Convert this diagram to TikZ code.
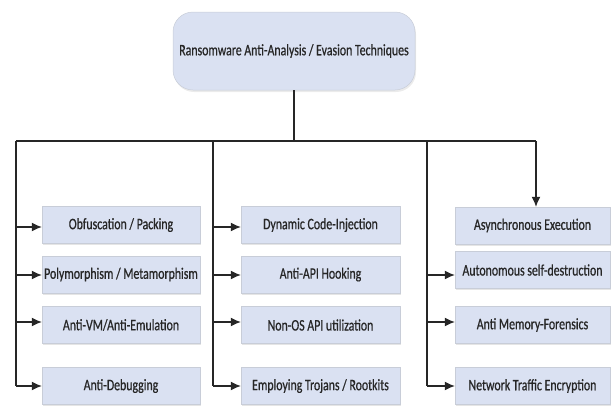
\documentclass[tikz,border=0pt]{standalone}
\usepackage{fontspec}
\setmainfont{Carlito}[FakeStretch=0.74, FakeBold=0.7]
\usetikzlibrary{arrows.meta,shadows}
\definecolor{boxfill}{HTML}{DAE1F2}
\definecolor{boxline}{HTML}{C8CDD8}
\tikzset{
  leaf/.style={draw=boxline, line width=0.4pt, fill=boxfill, minimum height=37pt, inner sep=0pt,
    font=\fontsize{16}{18}\selectfont, text=black!85,
    drop shadow={shadow xshift=1pt, shadow yshift=-1.5pt, opacity=0.25, fill=black!40}},
  rootbox/.style={draw=boxline, line width=0.5pt, fill=boxfill, rounded corners=20pt,
    minimum width=242pt, minimum height=78pt, inner sep=0pt,
    font=\fontsize{16}{18}\selectfont, text=black!85,
    drop shadow={shadow xshift=1pt, shadow yshift=-2pt, opacity=0.2, fill=black!40}},
  conn/.style={line width=1.2pt, draw=black!85},
  arr/.style={conn, -{Latex[length=10pt,width=9pt]}}
}
\begin{document}
\begin{tikzpicture}[x=1pt,y=-1pt]
\useasboundingbox (0,0) rectangle (611,405);
\node[rootbox] (root) at (294,51) {Ransomware Anti-Analysis / Evasion Techniques};
% left column
\node[leaf, minimum width=158pt] (a1) at (121,225) {Obfuscation / Packing};
\node[leaf, minimum width=158pt] (a2) at (121,274.5) {Polymorphism / Metamorphism};
\node[leaf, minimum width=158pt] (a3) at (121,325) {Anti-VM/Anti-Emulation};
\node[leaf, minimum width=158pt] (a4) at (121,386) {Anti-Debugging};
% middle column
\node[leaf, minimum width=159pt] (b1) at (320.5,225) {Dynamic Code-Injection};
\node[leaf, minimum width=159pt] (b2) at (320.5,274.5) {Anti-API Hooking};
\node[leaf, minimum width=159pt] (b3) at (320.5,325) {Non-OS API utilization};
\node[leaf, minimum width=159pt] (b4) at (320.5,386) {Employing Trojans / Rootkits};
% right column
\node[leaf, minimum width=155pt] (c1) at (532.5,225.5) {Asynchronous Execution};
\node[leaf, minimum width=155pt] (c2) at (532.5,270) {Autonomous self-destruction};
\node[leaf, minimum width=155pt] (c3) at (532.5,325) {Anti Memory-Forensics};
\node[leaf, minimum width=155pt] (c4) at (532.5,386) {Network Traffic Encryption};
% bus
\coordinate (busL) at (16,141);
\coordinate (busM) at (213,141);
\coordinate (busR) at (427,141);
\coordinate (busE) at (536,141);
\coordinate (busC) at (294,141);
\coordinate (endL) at (16,386);
\coordinate (endM) at (213,386);
\coordinate (endR) at (427,386);
\draw[conn] (root.south) -- (busC);
\draw[conn] (busL) -- (busE);
\draw[conn] (busL) -- (endL);
\draw[conn] (busM) -- (endM);
\draw[conn] (busR) -- (endR);
\draw[arr] (busE) -- (c1.north -| busE);
% left arrows
\draw[arr] (16,227) -- (a1.west |- 0,227);
\draw[arr] (16,275) -- (a2.west |- 0,275);
\draw[arr] (16,322) -- (a3.west |- 0,322);
\draw[arr] (endL) -- (a4.west |- endL);
% middle arrows
\draw[arr] (213,227) -- (b1.west |- 0,227);
\draw[arr] (213,275) -- (b2.west |- 0,275);
\draw[arr] (213,322) -- (b3.west |- 0,322);
\draw[arr] (endM) -- (b4.west |- endM);
% right arrows
\draw[arr] (427,275) -- (c2.west |- 0,275);
\draw[arr] (427,322) -- (c3.west |- 0,322);
\draw[arr] (endR) -- (c4.west |- endR);
\end{tikzpicture}
\end{document}
